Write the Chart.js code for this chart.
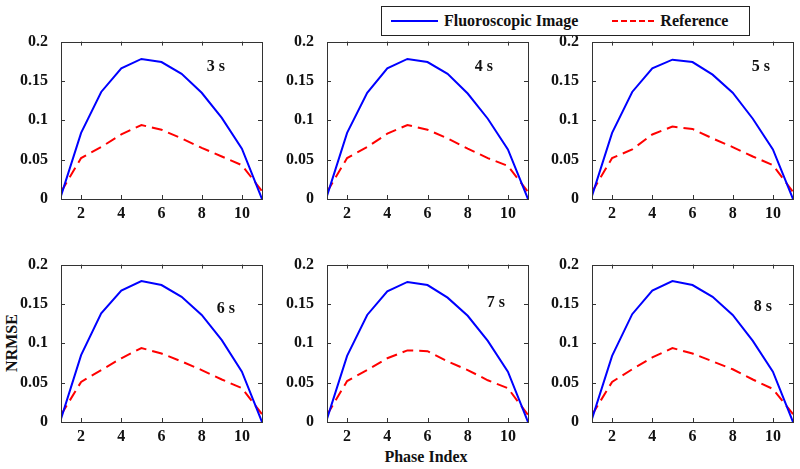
<!DOCTYPE html>
<html>
<head>
<meta charset="utf-8">
<script src="https://cdn.jsdelivr.net/npm/chart.js@4/dist/chart.umd.min.js"></script>
<style>
  body { margin: 0; background: #fff; }
  #wrap { position: relative; width: 800px; height: 469px; overflow: hidden; font-family: "Liberation Serif", serif; font-weight: bold; color: #111; }
  .panel { position: absolute; }
  #legend { position: absolute; left: 381px; top: 6px; width: 367px; height: 28px; border: 1px solid #222; background: #fff; z-index: 5;
            font-size: 16px; display: flex; align-items: center; }
  .swatch { display: inline-block; width: 47px; height: 0; margin-left: 9px; margin-right: 6px; }
  #ylab { position: absolute; left: 12px; top: 343px; transform: translate(-50%, -50%) rotate(-90deg); font-size: 16px; white-space: nowrap; }
  #xlab { position: absolute; left: 426px; top: 457px; transform: translate(-50%, -50%); font-size: 16px; white-space: nowrap; }
</style>
</head>
<body>
<div id="wrap">
  <div id="legend">
    <span class="swatch" style="border-top: 2px solid #0000ff;"></span><span>Fluoroscopic Image</span>
    <span class="swatch" style="margin-left: 34px; border-top: 2px dashed #ff0000; width: 42px;"></span><span>Reference</span>
  </div>
  <div id="ylab">NRMSE</div>
  <div id="xlab">Phase Index</div>
</div>
<script>
// phase index
const phaseIndex = [1, 2, 3, 4, 5, 6, 7, 8, 9, 10, 11];

// NRMSE per panel (fluoroscopic image, reference)
const fluoro3s = [0.004, 0.084, 0.136, 0.166, 0.178, 0.174, 0.159, 0.135, 0.103, 0.064, 0.0];
const ref3s    = [0.009, 0.052, 0.066, 0.082, 0.094, 0.088, 0.077, 0.065, 0.054, 0.043, 0.010];
const fluoro4s = [0.004, 0.084, 0.135, 0.166, 0.178, 0.174, 0.159, 0.134, 0.102, 0.063, 0.0];
const ref4s    = [0.009, 0.052, 0.066, 0.083, 0.094, 0.088, 0.077, 0.064, 0.052, 0.042, 0.009];
const fluoro5s = [0.004, 0.084, 0.136, 0.166, 0.177, 0.174, 0.158, 0.135, 0.102, 0.063, 0.0];
const ref5s    = [0.009, 0.052, 0.063, 0.082, 0.092, 0.089, 0.077, 0.066, 0.054, 0.043, 0.009];
const fluoro6s = [0.004, 0.085, 0.138, 0.167, 0.179, 0.174, 0.159, 0.136, 0.104, 0.064, 0.0];
const ref6s    = [0.009, 0.051, 0.066, 0.081, 0.094, 0.087, 0.077, 0.066, 0.054, 0.043, 0.010];
const fluoro7s = [0.004, 0.084, 0.136, 0.166, 0.178, 0.174, 0.158, 0.135, 0.103, 0.064, 0.0];
const ref7s    = [0.009, 0.052, 0.066, 0.081, 0.091, 0.090, 0.077, 0.066, 0.053, 0.043, 0.009];
const fluoro8s = [0.004, 0.084, 0.137, 0.167, 0.179, 0.174, 0.159, 0.136, 0.103, 0.064, 0.0];
const ref8s    = [0.009, 0.051, 0.067, 0.082, 0.094, 0.087, 0.077, 0.067, 0.054, 0.042, 0.010];

const fluoroSeries = [fluoro3s, fluoro4s, fluoro5s, fluoro6s, fluoro7s, fluoro8s];
const refSeries = [ref3s, ref4s, ref5s, ref6s, ref7s, ref8s];
const panelLabels = ['3 s', '4 s', '5 s', '6 s', '7 s', '8 s'];
const labelX = [8.7, 8.8, 9.4, 9.2, 9.4, 9.5];
const labelY = [0.168, 0.168, 0.168, 0.144, 0.151, 0.146];

const xTicks = [2, 4, 6, 8, 10];
const yTicks = [0, 0.05, 0.1, 0.15, 0.2];

// plot area boxes
const colLeft = [61, 327, 592];
const rowTop = [39, 262];
const plotW = 201, plotH = 160;
const padL = 50, padT = 12, padR = 6, padB = 24;

const FONT = { family: 'Liberation Serif', weight: 'bold', size: 16 };

// draws box + inward ticks on all four sides, and the time label
const matlabFrame = {
  id: 'matlabFrame',
  afterDatasetsDraw(chart, args, opts) {
    const { ctx, chartArea: a, scales: { x, y } } = chart;
    ctx.save();
    ctx.strokeStyle = '#333';
    ctx.lineWidth = 1;
    ctx.strokeRect(Math.round(a.left) + 0.5, Math.round(a.top) + 0.5, Math.round(a.width), Math.round(a.height));
    const t = 4;
    ctx.beginPath();
    xTicks.forEach(v => {
      const px = Math.round(x.getPixelForValue(v)) + 0.5;
      ctx.moveTo(px, a.bottom); ctx.lineTo(px, a.bottom - t);
      ctx.moveTo(px, a.top); ctx.lineTo(px, a.top + t);
    });
    yTicks.forEach(v => {
      const py = Math.round(y.getPixelForValue(v)) + 0.5;
      ctx.moveTo(a.left, py); ctx.lineTo(a.left + t, py);
      ctx.moveTo(a.right, py); ctx.lineTo(a.right - t, py);
    });
    ctx.stroke();
    ctx.fillStyle = '#111';
    ctx.font = 'bold 16px "Liberation Serif"';
    ctx.textAlign = 'center';
    ctx.textBaseline = 'middle';
    ctx.fillText(opts.text, x.getPixelForValue(opts.lx), y.getPixelForValue(opts.ly));
    ctx.restore();
  }
};

const wrap = document.getElementById('wrap');
for (let i = 0; i < 6; i++) {
  const col = i % 3, row = Math.floor(i / 3);
  const canvas = document.createElement('canvas');
  canvas.className = 'panel';
  canvas.width = padL + plotW + padR;
  canvas.height = padT + plotH + padB;
  canvas.style.left = (colLeft[col] - padL) + 'px';
  canvas.style.top = (rowTop[row] - padT) + 'px';
  wrap.appendChild(canvas);

  new Chart(canvas, {
    type: 'line',
    data: {
      labels: phaseIndex,
      datasets: [
        {
          label: 'Fluoroscopic Image',
          data: phaseIndex.map((p, k) => ({ x: p, y: fluoroSeries[i][k] })),
          borderColor: '#0000ff',
          borderWidth: 2,
          pointRadius: 0,
          tension: 0
        },
        {
          label: 'Reference',
          data: phaseIndex.map((p, k) => ({ x: p, y: refSeries[i][k] })),
          borderColor: '#ff0000',
          borderWidth: 2,
          borderDash: [11, 6],
          pointRadius: 0,
          tension: 0
        }
      ]
    },
    options: {
      responsive: false,
      animation: false,
      layout: { padding: { top: padT, right: padR, left: 0, bottom: 0 } },
      scales: {
        x: {
          type: 'linear',
          min: 1,
          max: 11,
          afterBuildTicks: s => { s.ticks = xTicks.map(v => ({ value: v })); },
          afterFit: s => { s.height = padB; },
          grid: { display: false },
          border: { display: false },
          ticks: { color: '#111', font: FONT, padding: -3, maxRotation: 0 }
        },
        y: {
          min: 0,
          max: 0.2,
          afterBuildTicks: s => { s.ticks = yTicks.map(v => ({ value: v })); },
          afterFit: s => { s.width = padL; },
          grid: { display: false },
          border: { display: false },
          ticks: { color: '#111', font: FONT, padding: 5, callback: v => String(+v.toFixed(2)) }
        }
      },
      plugins: {
        legend: { display: false },
        tooltip: { enabled: false },
        matlabFrame: { text: panelLabels[i], lx: labelX[i], ly: labelY[i] }
      }
    },
    plugins: [matlabFrame]
  });
}
</script>
</body>
</html>
